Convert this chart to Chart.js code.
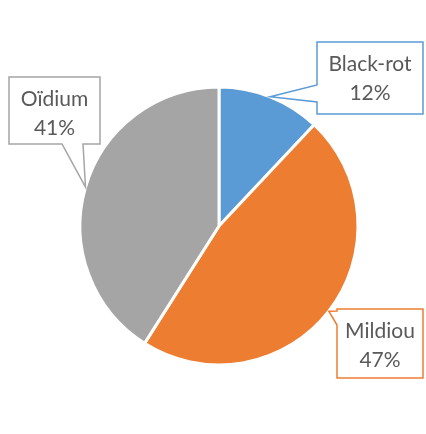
<!DOCTYPE html>
<html>
<head>
<meta charset="utf-8">
<script src="https://cdn.jsdelivr.net/npm/chart.js@4"></script>
<style>
  html, body { margin: 0; padding: 0; background: #fff; }
  #wrap { width: 426px; height: 434px; }
</style>
</head>
<body>
<div id="wrap"><canvas id="pie" width="426" height="434"></canvas></div>
<script>
// Données du graphique
const categories = ['Black-rot', 'Mildiou', 'Oïdium'];
const shares = [12, 47, 41];
const sliceColors = ['#5B9BD5', '#ED7D31', '#A5A5A5'];

// Bulles d'étiquettes (position des cadres, côté de la pointe)
const calloutBoxes = [
  { x: 317, y: 42, w: 106, h: 72, side: 'left', base: [85, 102] },
  { x: 337, y: 309, w: 86, h: 69, side: 'left', base: [311, 325] },
  { x: 9, y: 77, w: 91, h: 67, side: 'bottom', base: [62, 83] }
];

const calloutPlugin = {
  id: 'callouts',
  afterDatasetsDraw(chart) {
    const ctx = chart.ctx;
    const meta = chart.getDatasetMeta(0);
    const total = shares.reduce((s, v) => s + v, 0);
    meta.data.forEach((arc, i) => {
      const b = calloutBoxes[i];
      const mid = (arc.startAngle + arc.endAngle) / 2;
      const tx = arc.x + Math.cos(mid) * arc.outerRadius;
      const ty = arc.y + Math.sin(mid) * arc.outerRadius;

      ctx.save();
      ctx.beginPath();
      if (b.side === 'left') {
        ctx.moveTo(b.x, b.y);
        ctx.lineTo(b.x + b.w, b.y);
        ctx.lineTo(b.x + b.w, b.y + b.h);
        ctx.lineTo(b.x, b.y + b.h);
        ctx.lineTo(b.x, b.base[1]);
        ctx.lineTo(tx, ty);
        ctx.lineTo(b.x, b.base[0]);
      } else {
        ctx.moveTo(b.x, b.y);
        ctx.lineTo(b.x + b.w, b.y);
        ctx.lineTo(b.x + b.w, b.y + b.h);
        ctx.lineTo(b.base[1], b.y + b.h);
        ctx.lineTo(tx, ty);
        ctx.lineTo(b.base[0], b.y + b.h);
        ctx.lineTo(b.x, b.y + b.h);
      }
      ctx.closePath();
      ctx.fillStyle = '#ffffff';
      ctx.fill();
      ctx.lineWidth = 1.5;
      ctx.strokeStyle = sliceColors[i];
      ctx.stroke();

      ctx.fillStyle = '#595959';
      ctx.font = '21px Lato';
      ctx.textAlign = 'center';
      ctx.textBaseline = 'alphabetic';
      const cx = b.x + b.w / 2;
      const pct = Math.round(shares[i] / total * 100) + '%';
      ctx.fillText(categories[i], cx, b.y + 29);
      ctx.fillText(pct, cx, b.y + 58);
      ctx.restore();
    });
  }
};

new Chart(document.getElementById('pie').getContext('2d'), {
  type: 'pie',
  data: {
    labels: categories,
    datasets: [{
      data: shares,
      backgroundColor: sliceColors,
      borderColor: '#ffffff',
      borderWidth: 3
    }]
  },
  options: {
    responsive: false,
    animation: false,
    events: [],
    radius: 139,
    layout: { padding: { left: 12, top: 18, right: 0, bottom: 0 } },
    plugins: {
      legend: { display: false },
      tooltip: { enabled: false }
    }
  },
  plugins: [calloutPlugin]
});
</script>
</body>
</html>
